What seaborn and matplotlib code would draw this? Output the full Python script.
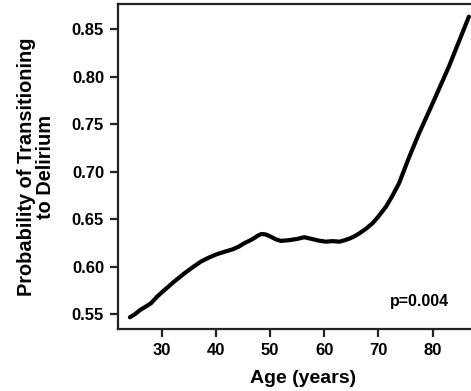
import pandas as pd
import seaborn as sns
import matplotlib.pyplot as plt

# valores
edad = [24.1, 25.0, 26.0, 27.0, 28.0, 29.2, 30.5, 32.3, 34.2, 35.7, 37.2, 38.8,
        40.3, 41.7, 43.1, 44.2, 45.2, 46.2, 47.0, 47.8, 48.4, 49.2, 50.1, 51.0,
        52.0, 53.5, 55.0, 56.3, 57.9, 59.0, 60.3, 61.5, 62.8, 63.8, 64.8, 65.7,
        66.5, 67.7, 68.9, 70.0, 71.4, 72.6, 73.8, 75.7, 77.5, 80.0, 83.0, 86.7]
probabilidad = [0.5468, 0.5500, 0.5545, 0.5580, 0.5616, 0.5690, 0.5756, 0.5845,
                0.5932, 0.5995, 0.6054, 0.6100, 0.6135, 0.6160, 0.6184, 0.6212,
                0.6247, 0.6275, 0.6300, 0.6330, 0.6345, 0.6340, 0.6317, 0.6290,
                0.6272, 0.6280, 0.6293, 0.6311, 0.6290, 0.6275, 0.6264, 0.6270,
                0.6264, 0.6280, 0.6300, 0.6325, 0.6353, 0.6400, 0.6458, 0.6530,
                0.6633, 0.6750, 0.6879, 0.7159, 0.7405, 0.7720, 0.8106, 0.8633]

df = pd.DataFrame({"edad": edad, "prob": probabilidad})

sns.set_style("ticks")
plt.rcParams["font.family"] = ["Liberation Sans", "DejaVu Sans"]
plt.rcParams["font.weight"] = "bold"
plt.rcParams["text.color"] = "black"
plt.rcParams["axes.labelcolor"] = "black"
plt.rcParams["xtick.color"] = "black"
plt.rcParams["ytick.color"] = "black"

fig = plt.figure(figsize=(4.71, 3.91), dpi=100)
ax = fig.add_axes([0.2505, 0.1586, 0.76, 0.8312])
sns.lineplot(data=df, x="edad", y="prob", color="black", linewidth=3, ax=ax)
ax.lines[0].set_solid_joinstyle("round")
ax.lines[0].set_solid_capstyle("round")

ax.set_xlim(21.9, 88.0)
ax.set_ylim(0.5345, 0.8766)
ax.set_xticks([30, 40, 50, 60, 70, 80])
ax.set_yticks([0.55, 0.60, 0.65, 0.70, 0.75, 0.80, 0.85])
ax.set_yticklabels([f"{v:.2f}" for v in ax.get_yticks()])

for s in ["left", "bottom", "top"]:
    ax.spines[s].set_linewidth(1.6)
    ax.spines[s].set_color("#222222")
ax.spines["right"].set_visible(False)
ax.tick_params(axis="both", width=1.6, length=6, color="#222222",
               labelsize=12, pad=4)
for lab in ax.get_xticklabels() + ax.get_yticklabels():
    lab.set_fontweight("bold")

ax.set_xlabel("Age (years)", fontsize=14, fontweight="bold")
ax.set_ylabel("Probability of Transitioning\nto Delirium", fontsize=14.4,
              fontweight="bold", linespacing=1.0)
ax.xaxis.set_label_coords(0.517, -0.126)
ax.yaxis.set_label_coords(-0.176, 0.5)

ax.text(83.0, 0.563, "p=0.004", ha="right", va="center", fontsize=11.5,
        fontweight="bold")

fig.savefig("out.png", dpi=100)
